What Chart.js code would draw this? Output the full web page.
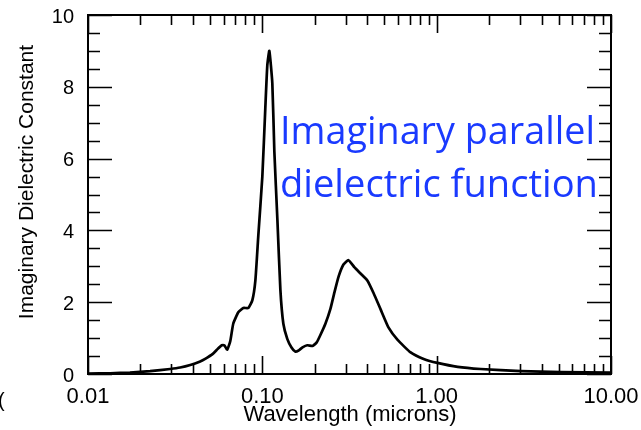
<!DOCTYPE html>
<html>
<head>
<meta charset="utf-8">
<script src="https://cdn.jsdelivr.net/npm/chart.js@4.4.1/dist/chart.umd.min.js"></script>
<style>
  html, body { margin: 0; padding: 0; background: #fff; }
</style>
</head>
<body>
<canvas id="chart" width="641" height="430"></canvas>
<script>
// Data
const wavelengths = [
  0.0100, 0.0134, 0.0174, 0.0227, 0.0296, 0.0338, 0.0386, 0.044, 0.047, 0.052,
  0.0555, 0.0585, 0.0605, 0.0629, 0.0655, 0.0681, 0.0728, 0.0778, 0.0831, 0.0876,
  0.0912, 0.0948, 0.100, 0.104, 0.1068, 0.1097, 0.1141, 0.1172, 0.122, 0.1269,
  0.132, 0.139, 0.147, 0.155, 0.162, 0.170, 0.181, 0.194, 0.205, 0.215,
  0.230, 0.246, 0.260, 0.274, 0.292, 0.312, 0.338, 0.366, 0.401, 0.435,
  0.477, 0.530, 0.597, 0.709, 0.842, 1.01, 1.32, 1.79, 3.04, 5.16, 10.0
];
const epsImag = [
  0.01, 0.02, 0.04, 0.08, 0.14, 0.18, 0.25, 0.35, 0.42, 0.56,
  0.70, 0.80, 0.80, 0.68, 0.92, 1.40, 1.72, 1.84, 1.84, 2.05,
  2.60, 3.85, 5.50, 7.40, 8.60, 9.00, 8.10, 6.20, 4.30, 2.35,
  1.40, 0.98, 0.74, 0.62, 0.66, 0.74, 0.80, 0.78, 0.88, 1.08,
  1.40, 1.82, 2.30, 2.72, 3.05, 3.17, 2.97, 2.80, 2.60, 2.25,
  1.80, 1.29, 0.95, 0.60, 0.42, 0.31, 0.20, 0.14, 0.08, 0.05, 0.04
];

// Axes
const xMajorTicks = [0.01, 0.1, 1, 10];
const xTickLabels = ['0.01', '0.10', '1.00', '10.00'];
const xMinorTicks = [
  0.02, 0.03, 0.04, 0.05, 0.06, 0.07, 0.08, 0.09,
  0.2, 0.3, 0.4, 0.5, 0.6, 0.7, 0.8, 0.9,
  2, 3, 4, 5, 6, 7, 8, 9
];
const yMajorTicks = [0, 2, 4, 6, 8, 10];
const yMinorTicks = [0.5, 1, 1.5, 2.5, 3, 3.5, 4.5, 5, 5.5, 6.5, 7, 7.5, 8.5, 9, 9.5];

const xTitle = 'Wavelength (microns)';
const yTitle = 'Imaginary Dielectric Constant';
const noteLines = ['Imaginary parallel', 'dielectric function'];

const AXIS_FONT = '"Liberation Sans", Arial, Helvetica, sans-serif';

// Inward ticks on all four sides, frame, titles and the blue note
const framePlugin = {
  id: 'frameTicks',
  afterDraw(chart) {
    const { ctx, chartArea: a, scales: { x, y } } = chart;
    ctx.save();
    ctx.strokeStyle = '#000';
    ctx.lineWidth = 1.6;
    ctx.beginPath();
    const yTick = (v, len) => {
      const py = Math.round(y.getPixelForValue(v)) + 0.5;
      ctx.moveTo(a.left, py); ctx.lineTo(a.left + len, py);
      ctx.moveTo(a.right, py); ctx.lineTo(a.right - len, py);
    };
    const xTick = (v, len) => {
      const px = Math.round(x.getPixelForValue(v)) + 0.5;
      ctx.moveTo(px, a.bottom); ctx.lineTo(px, a.bottom - len);
      ctx.moveTo(px, a.top); ctx.lineTo(px, a.top + len);
    };
    yMajorTicks.forEach(v => yTick(v, 24));
    yMinorTicks.forEach(v => yTick(v, 12));
    xMajorTicks.forEach(v => xTick(v, 18));
    xMinorTicks.forEach(v => xTick(v, 10));
    ctx.stroke();

    ctx.lineWidth = 2;
    ctx.strokeRect(a.left, a.top, a.right - a.left, a.bottom - a.top);

    // axis titles
    ctx.fillStyle = '#000';
    ctx.font = '22px ' + AXIS_FONT;
    ctx.textAlign = 'center';
    ctx.textBaseline = 'alphabetic';
    ctx.fillText(xTitle, 350, 421);

    ctx.save();
    ctx.translate(33, 182);
    ctx.rotate(-Math.PI / 2);
    ctx.font = '21px ' + AXIS_FONT;
    ctx.fillText(yTitle, 0, 0);
    ctx.restore();

    // clipped character at the left edge of the original
    ctx.textAlign = 'left';
    ctx.font = '20px ' + AXIS_FONT;
    ctx.fillText('(', -2, 407);

    // blue annotation
    ctx.fillStyle = '#1a3aff';
    ctx.font = '39px "Open Sans", "Noto Sans", sans-serif';
    ctx.fillText(noteLines[0], 280, 144, 315);
    ctx.fillText(noteLines[1], 280, 197, 318);
    ctx.restore();
  }
};

const ctx = document.getElementById('chart').getContext('2d');
new Chart(ctx, {
  type: 'scatter',
  data: {
    datasets: [{
      data: wavelengths.map((w, i) => ({ x: w, y: epsImag[i] })),
      showLine: true,
      borderColor: '#000',
      borderWidth: 2.7,
      pointRadius: 0,
      tension: 0.15
    }]
  },
  options: {
    responsive: false,
    animation: false,
    layout: { padding: { left: 0, top: 15, right: 30, bottom: 0 } },
    plugins: {
      legend: { display: false },
      tooltip: { enabled: false }
    },
    scales: {
      x: {
        type: 'logarithmic',
        min: 0.01,
        max: 10,
        grid: { display: false },
        border: { display: false },
        afterBuildTicks: scale => {
          scale.ticks = xMajorTicks.map(v => ({ value: v }));
        },
        afterFit: scale => {
          scale.height = 56;
          scale.paddingLeft = 0;
          scale.paddingRight = 0;
        },
        ticks: {
          autoSkip: false,
          maxRotation: 0,
          padding: 2,
          color: '#000',
          font: { family: AXIS_FONT, size: 22 },
          callback: (v, i) => xTickLabels[i]
        }
      },
      y: {
        min: 0,
        max: 10,
        grid: { display: false },
        border: { display: false },
        afterFit: scale => {
          scale.width = 88;
          scale.paddingTop = 0;
          scale.paddingBottom = 0;
        },
        ticks: {
          stepSize: 2,
          padding: 6,
          labelOffset: 2,
          color: '#000',
          font: { family: AXIS_FONT, size: 20 }
        }
      }
    }
  },
  plugins: [framePlugin]
});
</script>
</body>
</html>
